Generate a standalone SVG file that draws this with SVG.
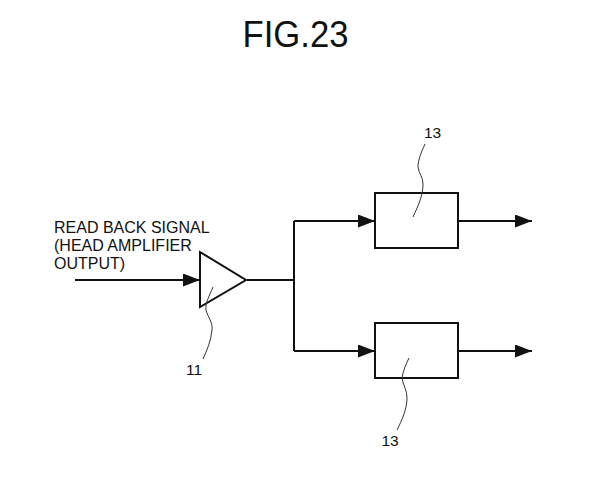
<svg xmlns="http://www.w3.org/2000/svg" width="593" height="500" viewBox="0 0 593 500">
<defs>
<style>
text{font-family:"Liberation Sans",Arial,sans-serif;fill:#111}
.lbl{font-size:16px}
.ref{font-size:15.5px}
.shape{fill:#fff;stroke:#111;stroke-width:2}
.wire{fill:none;stroke:#111;stroke-width:2}
.lead{fill:none;stroke:#333;stroke-width:1}
</style>
<marker id="arrow" markerUnits="userSpaceOnUse" markerWidth="18" markerHeight="14" refX="17" refY="6.5" orient="auto">
<path d="M0 0L17 6.5L0 13Z" fill="#111"/>
</marker>
</defs>
<rect width="593" height="500" fill="#fff"/>
<text id="title" x="295.5" y="47" font-size="36" text-anchor="middle" textLength="106" lengthAdjust="spacingAndGlyphs">FIG.23</text>
<g id="connectors">
<path class="wire" d="M75 280H200" marker-end="url(#arrow)"/>
<path class="wire" d="M247 280H294M294 221V351"/>
<path class="wire" d="M294 221H375" marker-end="url(#arrow)"/>
<path class="wire" d="M294 351H375" marker-end="url(#arrow)"/>
<path class="wire" d="M458 221H532" marker-end="url(#arrow)"/>
<path class="wire" d="M458 351H532" marker-end="url(#arrow)"/>
</g>
<g id="input-label">
<text class="lbl" x="54" y="233">READ BACK SIGNAL</text>
<text class="lbl" x="54" y="251">(HEAD AMPLIFIER</text>
<text class="lbl" x="54" y="269">OUTPUT)</text>
</g>
<g id="amp-11">
<path class="shape" d="M200 252L246 280L200 307Z"/>
<path class="lead" d="M213 287C209 297 205 303 206 310C208 318 213 322 212 330C211 341 207 350 203 359"/>
<text class="ref" x="194" y="375" text-anchor="middle">11</text>
</g>
<g id="block-13-top">
<rect class="shape" x="375" y="193" width="83" height="55"/>
<path class="lead" d="M425 144C421 153 418 160 418 167C419 174 423 177 423 184C423 196 418 206 413 217"/>
<text class="ref" x="432.5" y="138" text-anchor="middle">13</text>
</g>
<g id="block-13-bottom">
<rect class="shape" x="375" y="323" width="83" height="55"/>
<path class="lead" d="M409 358C406 364 403 371 402 378C403 385 407 390 407 398C407 409 402 420 397 430"/>
<text class="ref" x="390" y="446" text-anchor="middle">13</text>
</g>
</svg>
